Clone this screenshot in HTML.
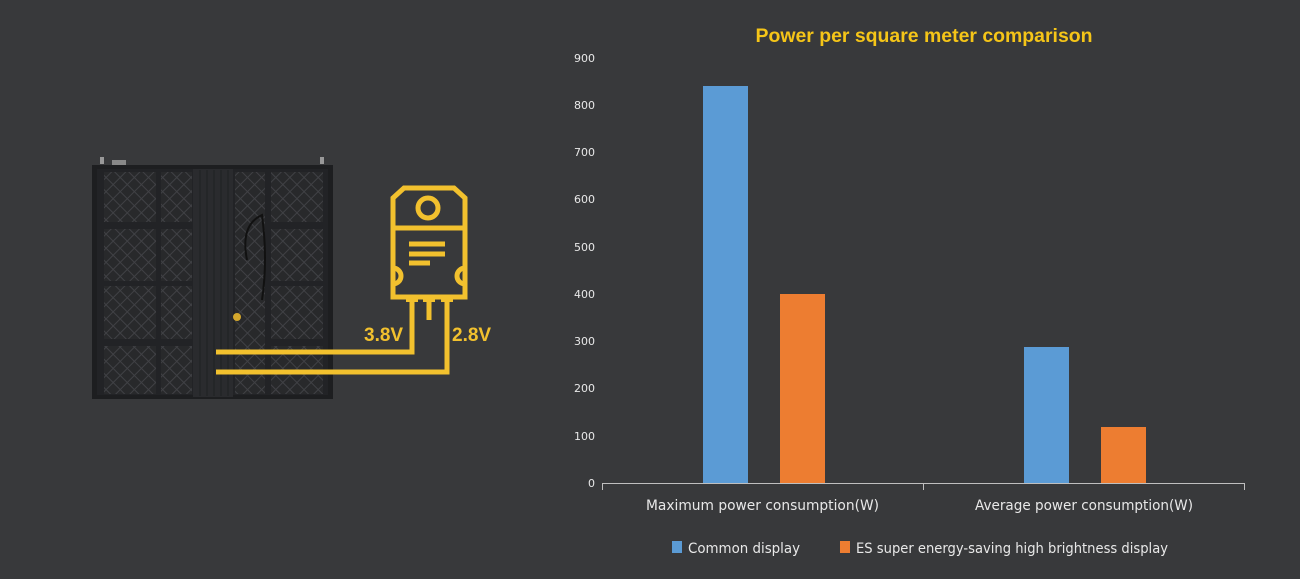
<!DOCTYPE html>
<html><head><meta charset="utf-8"><style>
html,body{margin:0;padding:0;background:#38393b;}
svg{display:block}
</style></head><body>
<svg width="1300" height="579" viewBox="0 0 1300 579" xmlns="http://www.w3.org/2000/svg">
<rect width="1300" height="579" fill="#38393b"/>
<defs>
<pattern id="hatch" width="10" height="10" patternUnits="userSpaceOnUse" patternTransform="rotate(45)">
<rect width="10" height="10" fill="#28292b"/>
<line x1="0" y1="0" x2="0" y2="10" stroke="#404145" stroke-width="2"/>
<line x1="0" y1="0" x2="10" y2="0" stroke="#404145" stroke-width="2"/>
</pattern>
</defs>
<!-- panel -->
<rect x="92" y="165" width="241" height="234" fill="#1d1e20"/>
<rect x="97" y="169" width="231" height="226" fill="#222326"/>
<g fill="url(#hatch)">
<rect x="104" y="172" width="52" height="50"/><rect x="104" y="229" width="52" height="52"/>
<rect x="104" y="286" width="52" height="53"/><rect x="104" y="346" width="52" height="48"/>
<rect x="161" y="172" width="31" height="50"/><rect x="161" y="229" width="31" height="52"/>
<rect x="161" y="286" width="31" height="53"/><rect x="161" y="346" width="31" height="48"/>
<rect x="235" y="172" width="30" height="222"/>
<rect x="271" y="172" width="52" height="50"/><rect x="271" y="229" width="52" height="52"/>
<rect x="271" y="286" width="52" height="53"/><rect x="271" y="346" width="52" height="48"/>
</g>
<rect x="193" y="169" width="40" height="228" fill="#2a2b2e"/>
<g stroke="#1f2022" stroke-width="1">
<line x1="200" y1="170" x2="200" y2="396"/><line x1="207" y1="170" x2="207" y2="396"/>
<line x1="214" y1="170" x2="214" y2="396"/><line x1="221" y1="170" x2="221" y2="396"/>
<line x1="228" y1="170" x2="228" y2="396"/></g>
<path d="M247 260 Q240 225 262 215 Q268 260 262 300" fill="none" stroke="#111" stroke-width="2"/>
<circle cx="237" cy="317" r="4" fill="#d4a72c"/>
<rect x="112" y="160" width="14" height="5" fill="#888"/>
<rect x="100" y="157" width="4" height="7" fill="#999"/><rect x="320" y="157" width="4" height="7" fill="#999"/>
<!-- yellow icon -->
<g fill="none" stroke="#f2c12e" stroke-width="5">
<path d="M393 228 L393 198 L404 188 L454 188 L465 198 L465 228 Z"/>
<circle cx="428" cy="208" r="10"/>
<rect x="393" y="228" width="72" height="69"/>
<line x1="409" y1="244" x2="445" y2="244"/><line x1="409" y1="254" x2="445" y2="254"/><line x1="409" y1="263" x2="430" y2="263"/>
<path d="M393 268 a8 8 0 0 1 0 16"/><path d="M465 268 a8 8 0 0 0 0 16"/>
<path d="M216 352 L412 352 L412 299"/>
<path d="M216 372 L447 372 L447 299"/>
<line x1="429" y1="299" x2="429" y2="320"/>
</g>
<g fill="#f2c12e" stroke="none">
<rect x="406" y="297" width="12" height="5"/><rect x="423" y="297" width="12" height="5"/><rect x="441" y="297" width="12" height="5"/>
</g>
<text x="364" y="341" font-family="Liberation Sans, sans-serif" font-weight="bold" font-size="19" fill="#f2c12e">3.8V</text>
<text x="452" y="341" font-family="Liberation Sans, sans-serif" font-weight="bold" font-size="19" fill="#f2c12e">2.8V</text>
<!-- chart -->
<text x="924" y="42" text-anchor="middle" font-family="Liberation Sans, sans-serif" font-weight="bold" font-size="19" fill="#f5c518" textLength="337" lengthAdjust="spacingAndGlyphs">Power per square meter comparison</text>
<g font-family="DejaVu Sans, sans-serif" font-size="11" fill="#e8e8e8" text-anchor="end">
<text x="595" y="62">900</text><text x="595" y="109">800</text><text x="595" y="156">700</text>
<text x="595" y="203">600</text><text x="595" y="251">500</text><text x="595" y="298">400</text>
<text x="595" y="345">300</text><text x="595" y="392">200</text><text x="595" y="440">100</text>
<text x="595" y="487">0</text>
</g>
<rect x="703" y="86" width="45" height="397" fill="#5b9bd5"/>
<rect x="780" y="294" width="45" height="189" fill="#ed7d31"/>
<rect x="1024" y="347" width="45" height="136" fill="#5b9bd5"/>
<rect x="1101" y="427" width="45" height="56" fill="#ed7d31"/>
<g stroke="#bfbfbf" stroke-width="1">
<line x1="602" y1="483.5" x2="1245" y2="483.5"/>
<line x1="602.5" y1="483" x2="602.5" y2="490"/><line x1="923.5" y1="483" x2="923.5" y2="490"/><line x1="1244.5" y1="483" x2="1244.5" y2="490"/>
</g>
<g font-family="DejaVu Sans, sans-serif" font-size="14" fill="#e8e8e8">
<text x="646" y="510" textLength="233" lengthAdjust="spacingAndGlyphs">Maximum power consumption(W)</text>
<text x="975" y="510" textLength="218" lengthAdjust="spacingAndGlyphs">Average power consumption(W)</text>
</g>
<rect x="672" y="541" width="10" height="12" fill="#5b9bd5"/>
<rect x="840" y="541" width="10" height="12" fill="#ed7d31"/>
<g font-family="DejaVu Sans, sans-serif" font-size="14" fill="#e8e8e8">
<text x="688" y="553" textLength="112" lengthAdjust="spacingAndGlyphs">Common display</text>
<text x="856" y="553" textLength="312" lengthAdjust="spacingAndGlyphs">ES super energy-saving high brightness display</text>
</g>
</svg>
</body></html>
